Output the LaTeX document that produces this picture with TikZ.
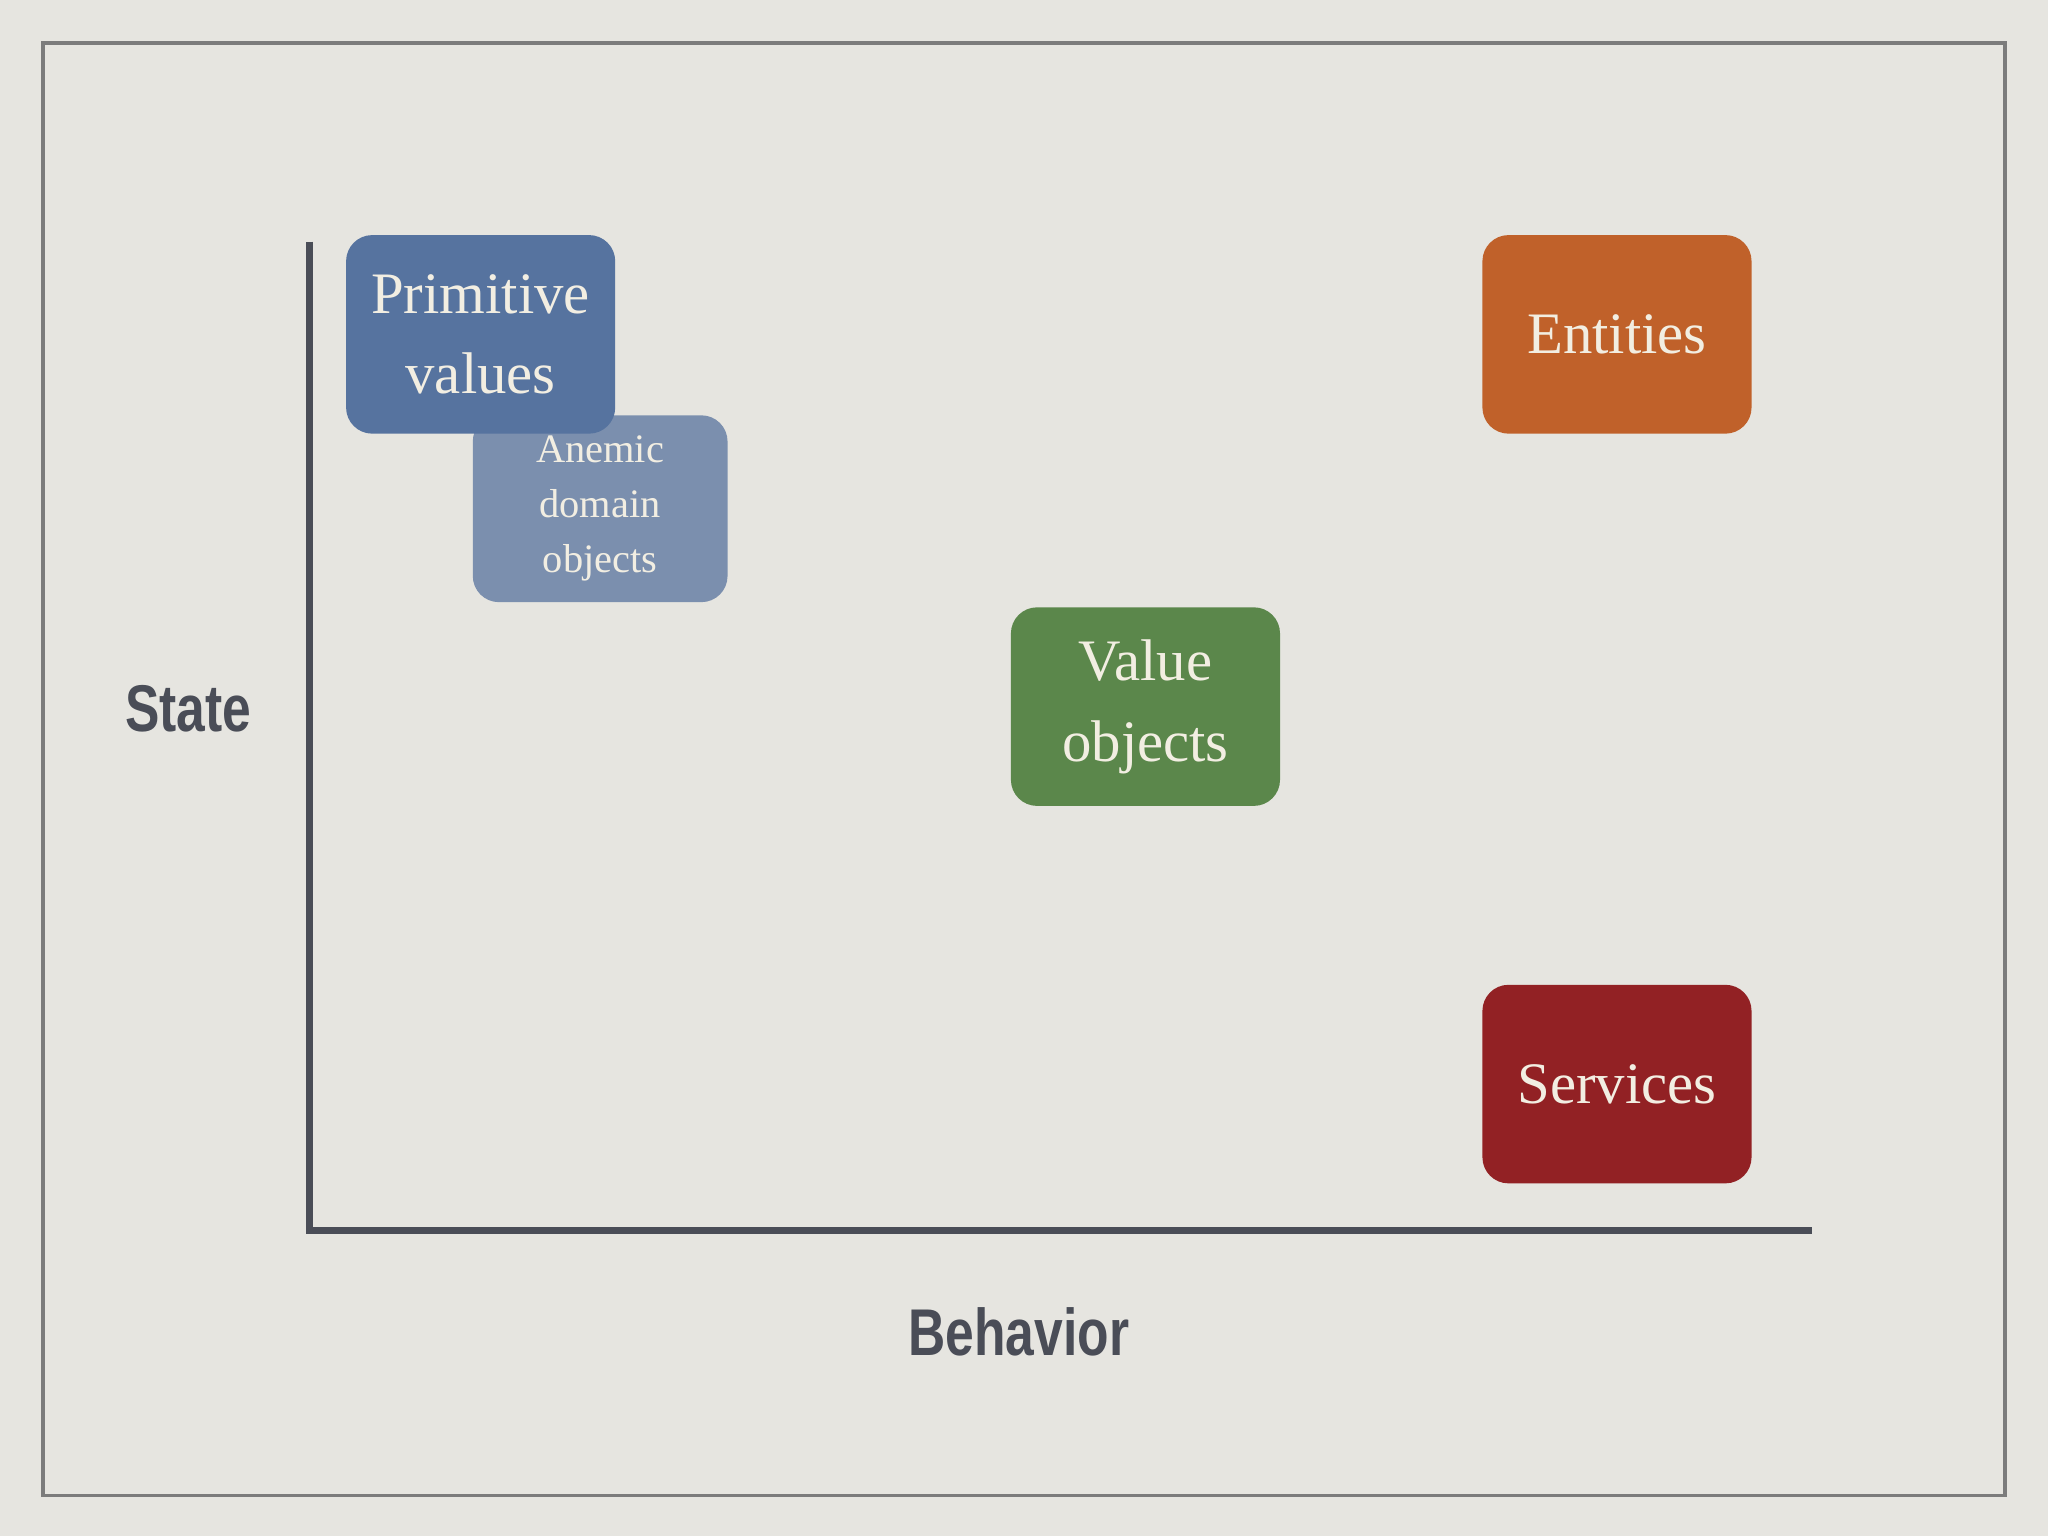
\documentclass[tikz,border=0pt]{standalone}
\usepackage{fontspec}
\setmainfont{Liberation Serif}
\setsansfont{Liberation Sans}
\definecolor{bg}{HTML}{E6E5E0}
\definecolor{frame}{HTML}{7C7C7C}
\definecolor{axis}{HTML}{4A4D57}
\definecolor{blueA}{HTML}{56739F}
\definecolor{blueB}{HTML}{7B8FAE}
\definecolor{orangeA}{HTML}{C0612A}
\definecolor{greenA}{HTML}{5B874B}
\definecolor{redA}{HTML}{922124}
\definecolor{txt}{HTML}{F2EEE2}
\begin{document}
\begin{tikzpicture}[x=0.025cm,y=-0.025cm,
  box/.style={rounded corners=0.5cm,text=txt,align=center,minimum width=5.15cm,minimum height=3.8cm,inner sep=0pt,font=\fontsize{32}{44}\selectfont},
  lbl/.style={text=axis,font=\sffamily\bfseries\fontsize{36}{40}\selectfont}]
\fill[bg] (0,0) rectangle (1568,1176);
\useasboundingbox (0,0) rectangle (1568,1176);
\draw[frame,line width=2pt] (33,33) rectangle (1535,1145);
\draw[axis,line width=3.5pt] (237,185) -- (237,945);
\draw[axis,line width=3.5pt] (237,942) -- (1387,942);
\node[box,fill=blueB,minimum width=4.875cm,minimum height=3.575cm,font=\fontsize{22}{30}\selectfont] (anemic) at (459.5,389.5) {Anemic\\domain\\objects};
\node[box,fill=blueA] (prim) at (368,256) {Primitive\\values};
\node[box,fill=orangeA] (ent) at (1238,256) {Entities};
\node[box,fill=greenA] (val) at (877,541) {Value\\objects};
\node[box,fill=redA] (serv) at (1238,830) {Services};
\node[lbl] (state) at (144,543) {\scalebox{0.78}[1]{State}};
\node[lbl] (beh) at (780,1020) {\scalebox{0.78}[1]{Behavior}};
\end{tikzpicture}
\end{document}
